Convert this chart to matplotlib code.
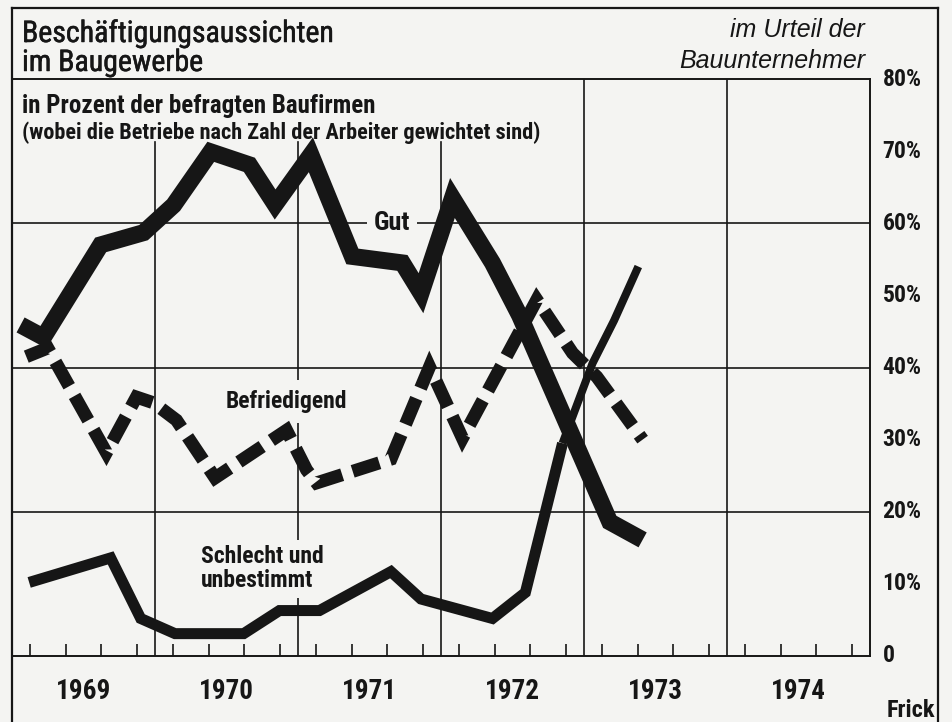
import matplotlib
matplotlib.use("Agg")
import matplotlib.pyplot as plt
import matplotlib.font_manager as fm
import matplotlib.patheffects as pe
from matplotlib.lines import Line2D

# ---------------- data ----------------
gut_t = [1969.06, 1969.22, 1969.62, 1969.92, 1970.13, 1970.39, 1970.66, 1970.84,
         1971.09, 1971.38, 1971.73, 1971.86, 1972.08, 1972.36, 1972.55, 1973.18, 1973.41]
gut_v = [45.9, 44.2, 57.0, 58.7, 62.5, 69.9, 68.1, 62.6,
         69.5, 55.4, 54.5, 50.3, 63.5, 54.5, 47.2, 18.6, 16.1]

bef_t = [1969.10, 1969.25, 1969.66, 1969.87, 1969.99, 1970.15, 1970.42, 1970.92,
         1971.06, 1971.13, 1971.65, 1971.92, 1972.15, 1972.67, 1972.92, 1973.09, 1973.41]
bef_v = [41.5, 42.7, 28.2, 35.9, 35.1, 32.7, 24.7, 31.3,
         25.8, 24.0, 27.3, 40.1, 30.2, 49.4, 42.0, 38.7, 30.0]

sch_t = [1969.12, 1969.69, 1969.90, 1970.14, 1970.62, 1970.87, 1971.15, 1971.65,
         1971.86, 1972.36, 1972.59, 1972.85]
sch_v = [10.2, 13.6, 5.2, 3.1, 3.1, 6.3, 6.3, 11.7, 7.9, 5.2, 8.8, 29.5]
sch2_t = [1972.85, 1973.06, 1973.21, 1973.38]
sch2_v = [29.5, 40.6, 46.5, 54.0]

years = [1969, 1970, 1971, 1972, 1973, 1974]
y_ticks = [0, 10, 20, 30, 40, 50, 60, 70, 80]
y_ticklabels = ["0", "10%", "20%", "30%", "40%", "50%", "60%", "70%", "80%"]

# ---------------- fonts ----------------
names = {f.name for f in fm.fontManager.ttflist}
COND = None
for n in ["Liberation Sans Narrow", "Roboto Condensed", "Open Sans Condensed"]:
    if n in names:
        COND = n
        break
if COND is None:
    COND = "DejaVu Sans"
    STRETCH = "condensed"
else:
    STRETCH = "normal"
REG = "Liberation Sans" if "Liberation Sans" in names else "DejaVu Sans"

INK = "#161616"
BG = "#f4f4f2"

W, H = 952, 722
fig = plt.figure(figsize=(W / 100, H / 100), dpi=100, facecolor=BG)

def fx(x):
    return x / W

def fy(y):
    return 1 - y / H

X0, X1, Y0, Y1 = 12, 870, 656, 79
ax = fig.add_axes([fx(X0), fy(Y0), fx(X1) - fx(X0), fy(Y1) - fy(Y0)])
ax.set_facecolor(BG)
ax.set_xlim(1969, 1975)
ax.set_ylim(0, 80)

for s in ax.spines.values():
    s.set_color(INK)
    s.set_linewidth(1.4)

# grid
for yv in [20, 40, 60]:
    ax.axhline(yv, color=INK, lw=1.2, zorder=1)
for yr in years[1:]:
    ymax = 0.891 if yr <= 1972 else 1.0
    ax.axvline(yr, ymin=0, ymax=ymax, color=INK, lw=1.2, zorder=1)

# ticks
ax.set_yticks(y_ticks)
ax.set_yticklabels(y_ticklabels)
ax.yaxis.tick_right()
ax.tick_params(axis="y", which="major", length=0, pad=9, labelsize=17)
for lab in ax.get_yticklabels():
    lab.set_fontfamily(COND)
    lab.set_fontweight("bold")
    lab.set_fontstretch(STRETCH)
    lab.set_color(INK)
    lab.set_verticalalignment("center")
ax.set_yticks([10, 30, 50, 70], minor=True)
ax.tick_params(axis="y", which="minor", direction="in", length=8.5, width=1.2,
               left=True, right=True, color=INK)

ax.set_xticks([y + 0.5 for y in years])
ax.set_xticklabels([str(y) for y in years])
ax.tick_params(axis="x", which="major", length=0, pad=16, labelsize=19.5)
for lab in ax.get_xticklabels():
    lab.set_fontfamily(COND)
    lab.set_fontweight("bold")
    lab.set_fontstretch(STRETCH)
    lab.set_color(INK)
qt = [y + (q + 0.5) / 4 for y in years for q in range(4)]
ax.set_xticks(qt, minor=True)
ax.tick_params(axis="x", which="minor", direction="in", length=9, width=1.2, color=INK)

# series
PX = 0.72
ax.plot(gut_t, gut_v, color=INK, lw=17 * PX, solid_joinstyle="miter",
        solid_capstyle="butt", zorder=5)
ax.plot(bef_t, bef_v, color=INK, lw=13 * PX, dashes=(2.15, 0.85),
        dash_joinstyle="miter", dash_capstyle="butt", zorder=4)
ax.plot(sch_t, sch_v, color=INK, lw=11 * PX, solid_joinstyle="miter",
        solid_capstyle="butt", zorder=4)
ax.plot(sch2_t, sch2_v, color=INK, lw=8 * PX, solid_joinstyle="round",
        solid_capstyle="butt", zorder=4)

# in-plot labels
lbl = dict(fontfamily=COND, fontweight="bold", fontstretch=STRETCH, color=INK, zorder=3)
ax.text(1971.66, 60.0, "Gut", fontsize=19, ha="center", va="center",
        bbox=dict(facecolor=BG, edgecolor="none", pad=5), **lbl)
ax.text(1970.92, 35.3, "Befriedigend", fontsize=17, ha="center", va="center",
        bbox=dict(facecolor=BG, edgecolor="none", pad=7), **lbl)
ax.text(1970.32, 12.1, "Schlecht und\nunbestimmt", fontsize=17, ha="left", va="center",
        linespacing=1.05, bbox=dict(facecolor=BG, edgecolor="none", pad=4), **lbl)

# header texts
semi = [pe.withStroke(linewidth=0.35, foreground=INK)]
fig.text(fx(22), fy(42), "Beschäftigungsaussichten", fontsize=21.5,
         fontfamily=COND, fontweight="normal", fontstretch=STRETCH, color=INK,
         ha="left", va="baseline", path_effects=semi)
fig.text(fx(22), fy(71), "im Baugewerbe", fontsize=21.5,
         fontfamily=COND, fontweight="normal", fontstretch=STRETCH, color=INK,
         ha="left", va="baseline", path_effects=semi)
fig.text(fx(22), fy(113), "in Prozent der befragten Baufirmen", fontsize=18,
         fontfamily=COND, fontweight="bold", fontstretch=STRETCH, color=INK,
         ha="left", va="baseline")
fig.text(fx(22), fy(139), "(wobei die Betriebe nach Zahl der Arbeiter gewichtet sind)",
         fontsize=16, fontfamily=COND, fontweight="bold", fontstretch=STRETCH, color=INK,
         ha="left", va="baseline")
fig.text(fx(865), fy(37), "im Urteil der", fontsize=18, fontstyle="italic",
         fontfamily=REG, color=INK, ha="right", va="baseline")
fig.text(fx(865), fy(68), "Bauunternehmer", fontsize=18, fontstyle="italic",
         fontfamily=REG, color=INK, ha="right", va="baseline")
fig.text(fx(935), fy(717), "Frick", fontsize=17.5, fontfamily=COND, fontweight="bold",
         fontstretch=STRETCH, color=INK, ha="right", va="baseline")

# outer frame
for xs, ys in [([12, 12], [8, 722]), ([12, 938], [8, 8]), ([938, 938], [8, 722])]:
    fig.add_artist(Line2D([fx(v) for v in xs], [fy(v) for v in ys], color=INK, lw=1.6))

fig.savefig("out.png", dpi=100, facecolor=BG)
